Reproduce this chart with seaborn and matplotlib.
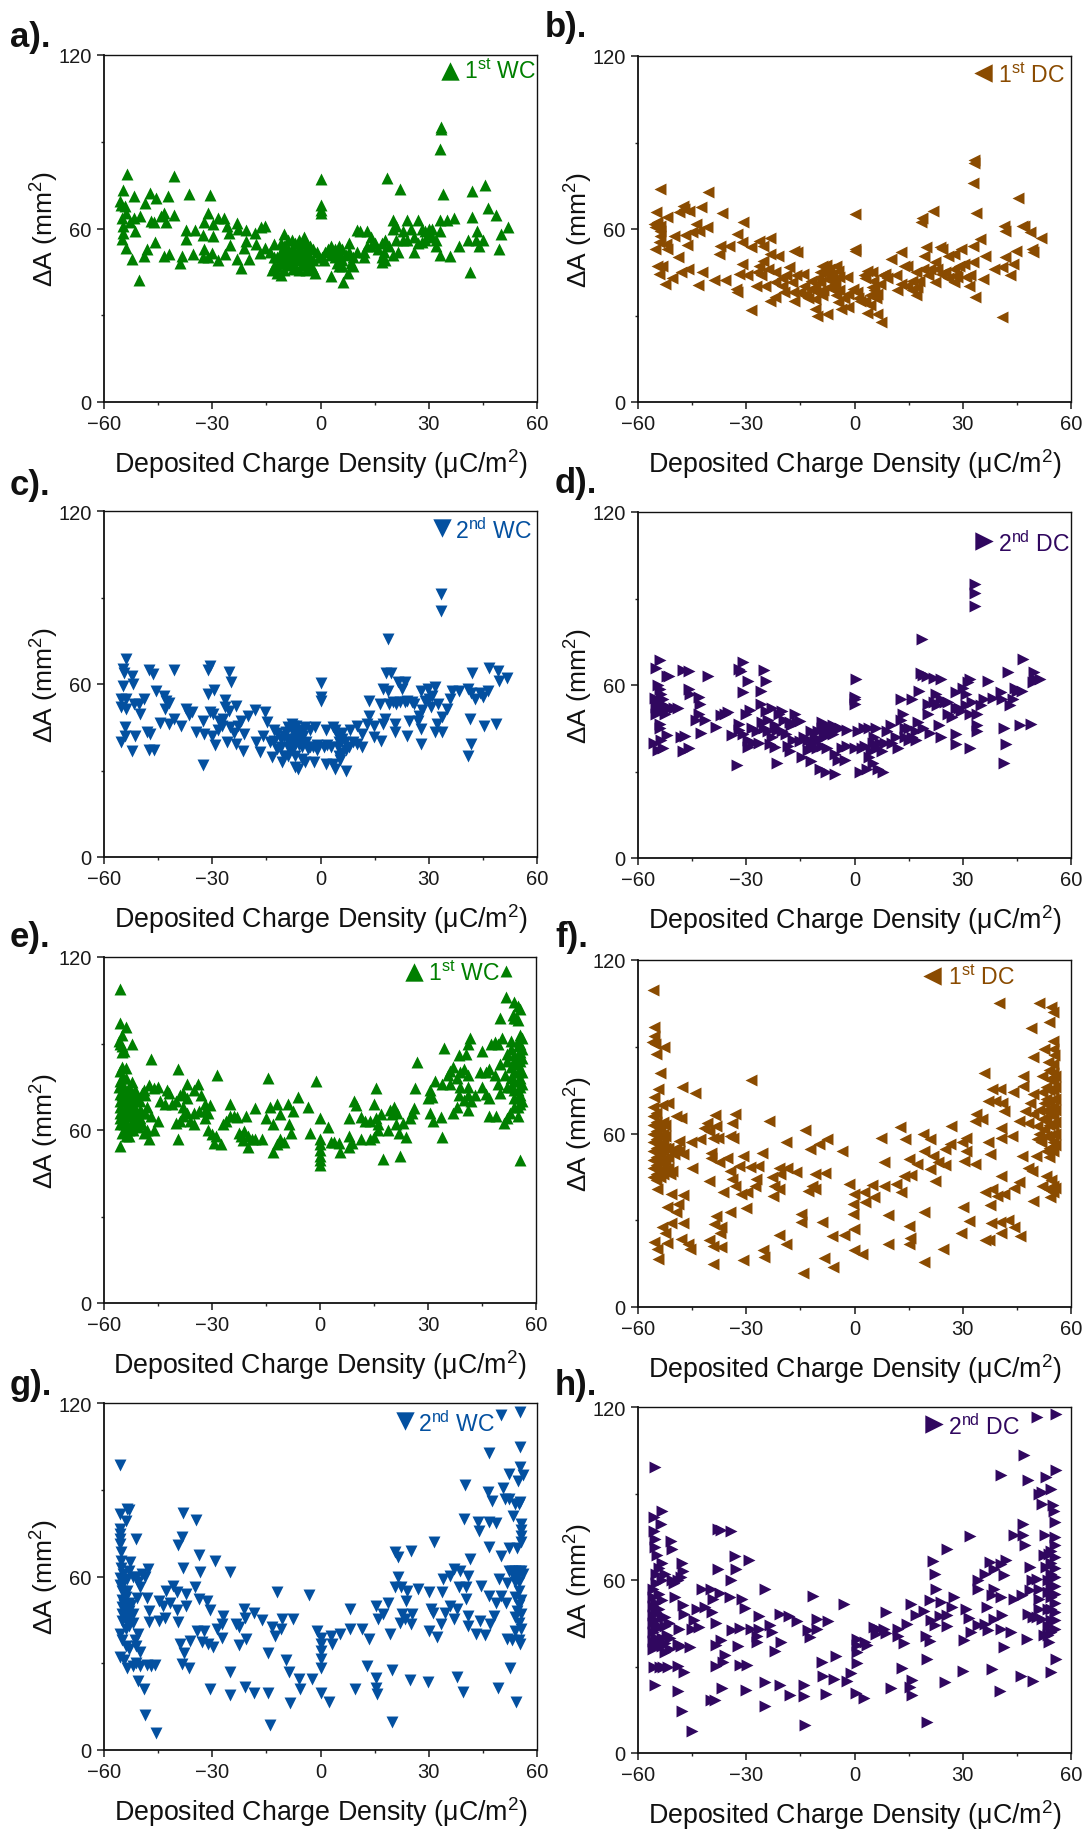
import matplotlib
matplotlib.use("Agg")
import matplotlib.pyplot as plt
import seaborn as sns
import pandas as pd
from matplotlib.ticker import MultipleLocator

sns.set_theme(style="white")
plt.rcParams['font.family'] = ['Liberation Sans', 'DejaVu Sans']
plt.rcParams['mathtext.fontset'] = 'custom'
plt.rcParams['mathtext.rm'] = 'Liberation Sans'
plt.rcParams['mathtext.default'] = 'regular'

# (charge density, delta A) pairs
pts_a = [(-53.5,78.8),(-54.7,73.4),(-55.5,69.6),(-55.2,68),(-54.2,67.9),(-51.8,71.3),(-47.3,72.2),(-45.6,70.4),(-48.5,68.8),(-42.2,71.3),(-40.6,78),(-36.5,71.9),(-30.6,71.5),(-53.8,65.5),(-55,63.8),(-51.6,63.8),(-50,64.2),(-47.1,62.7),(-46.1,62.3),(-44.2,64.4),(-43.5,65.2),(-42.7,62.3),(-40.6,64.7),(-54.7,60.9),(-52.8,62.1),(-51.4,59.2),(-54.7,58.6),(-55,56.3),(-53.8,53.4),(-45.8,55.4),(-48,53),(-49,50.5),(-52.3,49.6),(-50.4,42.1),(-43.4,50.5),(-42,51.3),(-38.4,50.5),(-39,48.2),(-35.3,51.3),(-37.4,56.5),(-37.2,59.4),(-34.8,59.5),(-32.6,57.7),(-32.4,62.3),(-31.2,65.2),(-29.8,61.5),(-28.5,63.8),(-26.7,63.5),(-25.9,60.9),(-25.4,58.6),(-23.2,61.9),(-23,59.8),(-20.6,59.5),(-18.2,58.6),(-16.6,60.4),(-15.4,60.9),(-29.8,57.5),(-30.2,51.7),(-32.2,52.9),(-32.6,50.3),(-31.2,50),(-28.5,49.2),(-26.4,51.1),(-25,54.2),(-23.2,49.4),(-21.9,46.2),(-19.9,49.6),(-21.1,53.4),(-20.6,55.7),(-17.8,54.6),(-16.8,51.7),(-15.4,53.4),(-13,54.6),
(-14,52),(-13,50),(-13,47),(-13.5,45.5),(-12,50),(-12,47),(-12,44.5),(-11,44),(-11,48),(-11,52),(-11,55),(-10,58),(-10,54),(-10,51),(-10,48),(-10,45.5),(-9,56),(-9,53),(-9,50),(-9,47.5),(-8,56),(-8,53),(-8,51),(-8,48),(-7.5,46),(-7,55),(-7,52),(-7,50),(-7,47),(-6,56),(-6,53),(-6,51),(-6,49),(-6,45.5),(-5,55),(-5,52),(-5,50),(-5,47.5),(-4.5,57),(-4,55),(-4,53),(-4,51),(-4,48),(-4,45.5),(-3,54),(-3,50),(-3,47),(-2,53),(-2,49),(-2,46),(-1.5,44.5),(-1,52),(-0.5,50),(0.5,50),
(0,77),(0,68),(0,66.5),(0,65.5),(1,49),(1.2,52),(2,53),(3,54),(3,51),(3,43.5),(4,53),(4,50),(4.5,48),(5,54),(5,52),(5,47),(5.5,50),(6,53),(6,49),(6,47),(6.3,41.5),(7,51),(7.5,44.5),(8,55),(8,52),(8.5,48),(9,47),(9,50),(10,52),(10,59.5),(11,59),(12,52),(12,50),(13,54),(13,59),(14,57),(14,54),(15,55),(16,53),(17,55),(17,50),(17,48.5),(17.5,52),(18,49),(18,56),(18.5,77.5),(19,54),(20,63),(20,60),(20,51),(21,61),(21,56),(21.5,52),(22,73.5),(23,59),(23,56),(24,63),(24,56),(25,60),(26,57),(26,52),(27,63),(27,55),(28,60),(28,55.5),(29,59),(29,56),(30,60),(30,58),(31,60),(31,57),(32,54),(32,56),(33,63),(33,51),(33,59),(33.5,95),(33.4,94.3),(33,87.5),(34,72),(35,63),(36,50.5),(37,63.5),(38.5,54),(41,56),(41.5,45),(42,73),(42,64),(43,56),(43.5,59),(44,54),(45,56),(45.5,75),(46.5,67),(48.5,64.5),(49.5,53),(50,58),(52,60.5)]

pts_b = [(-53.8,73.9),(-40.6,73),(-47.5,67.9),(-48.5,65.8),(-46,66.1),(-47.2,67),(-42.5,67.5),(-36.7,65.4),(-31,62.5),(-55,65.8),(-52,64),(-55.7,61.7),(-54.7,62.3),(-53.8,61.2),(-55.2,60.6),(-53.8,59.4),(-54,57.5),(-43.9,61.7),(-40.8,60.6),(-43.2,59.4),(-45.1,58.8),(-47,58),(-50.1,57.5),(-52.3,54.8),(-51.9,52.9),(-55.2,53),(-54.3,55.4),(-46.3,54.5),(-48.8,50.2),(-37.4,54.2),(-37.6,51.4),(-34.8,54.2),(-32.6,58.3),(-31.2,55.4),(-28.8,53.7),(-26.6,56),(-25.4,54.2),(-23.5,56.8),(-23.5,51.4),(-21.1,50.8),(-16.7,52.5),(-15.8,51.9),
(-54.7,47.3),(-53.3,47.3),(-54.3,44.4),(-52.6,41),(-50.7,42.9),(-48.2,45),(-46.1,46.2),(-42.4,45.2),(-43.5,40.6),(-38.9,42.4),(-35.8,42.4),(-32.8,39.2),(-32.6,38.1),(-32.1,44.4),(-31.2,47.9),(-29.7,43.9),(-28.8,32),(-27.3,40.2),(-26.4,47.3),(-25.9,43.9),(-24.9,40.4),(-25.4,49),(-23.5,35.2),(-22,36.3),(-22,45),(-22,41.5),(-20.1,40.4),(-19.6,38.3),(-18.2,46.7),(-17.4,41.5),(-16.7,35.2),(-16.3,43.9),(-14.3,44.4),(-13.9,40.4),(-13.4,36.9),(-12,39.2),(-11,32.3),(-10.5,30),(-11,35.8),(-9.5,45),(-9.5,41.5),(-8.6,38.7),(-7.6,30.6),(-8.1,45),(-7.6,42.7),(-7,46.2),(-6.2,43.9),(-6.2,39.2),(-4.7,45.6),(-4.2,43.3),(-4.2,38.7),(-4.7,34.6),(-3.8,32.3),(-1.8,32.9),(-1.8,37.5),(-2,43.3),(-0.4,39.2),(-9,47),(-8,47.5),(-7,44),(-6,42),(-5,47),(-5.5,41),(-10,38),(-11,40),(-12,42),(-13,36),
(0.6,38),(0.1,65.2),(0,53),(0.2,52.5),(1.5,35),(2.5,44),(3.5,45.6),(3.5,31),(4.4,37),(4.9,45),(4.9,40),(4.4,33.5),(6.3,30.6),(7.3,27.7),(6.3,37.5),(7.8,44),(8.5,44.5),(10,49.6),(13,52),(13.6,47),(11.6,44),(11.8,38.7),(14.5,47.3),(14.5,40.4),(16,38.7),(17,37),(17.4,40),(17,45),(18.4,62.3),(18.7,63.8),(21.7,66.4),(19.8,53.7),(19.3,50.8),(20.3,43.9),(22.2,48.5),(22.2,41.5),(23.7,53.7),(24.1,44.4),(24.3,53),(25.9,50.8),(27.5,46.2),(27.5,41.5),(27.5,51.4),(29.4,53),(28.5,43.5),(30.4,47.9),(30.9,43.3),(31.8,40.4),(32.8,48.5),(32.8,54.2),(33,84),(33,83),(32.8,76),(33.6,65.5),(33.3,36.3),(34.7,56.5),(36.2,50.8),(35.7,42.5),(38.6,46.2),(41,29.4),(41.3,61),(41.7,59.4),(41.7,50.2),(41,46.7),(43,43.9),(43.9,47.9),(44.8,52.5),(45.3,70.6),(46.3,61.2),(47,61),(48.7,59),(49.2,53),(49.4,52),(51.8,57),(5,42),(5.5,39),(6,36),(18,42),(19,46),(21,46),(23,46),(26,43),(28,44),(29,47),(32,44),
(-27,45),(-24,46),(-20,43),(-19,44),(-17,38),(-15,38),(-14,37),(-10,43),(-9,37),(-7,40),(-5,37),(-3,36),(1,36),(3,43),(3,35),(7,41),(9,43),(13,41),(16,42),(25,45)]

pts_c = [(-53.8,68.7),(-54.7,65.2),(-54.4,63.8),(-52.3,62.9),(-54.7,59.4),(-52.1,60),(-47.5,64.9),(-46.3,63.5),(-40.6,64.9),(-30.5,66.4),(-31.2,65),(-25.4,64),(-24.7,60.6),(-29.6,57.9),(-31.2,56.5),(-45.6,57.7),(-43.5,55.7),(-42,53.3),(-43.2,51.4),(-42.8,54),(-55.2,54.8),(-53.8,54.8),(-55.2,51.9),(-53.8,51.4),(-51.8,53),(-50.4,53),(-48.8,54.8),(-49.9,49.6),(-54.2,45),(-54.2,41.8),(-55.2,39.8),(-51.4,41.8),(-52.3,36.6),(-48,43.3),(-47.3,42.7),(-47.5,37.2),(-46.1,37.2),(-44.6,46.5),(-42,46),(-40.6,47.7),(-38.7,45.4),(-37.2,51.4),(-36.5,49.4),(-35.5,50.2),(-34.6,43.3),(-32.6,47.3),(-32.2,42.7),(-32.6,32),(-30.7,50.2),(-29.8,49.6),(-30,42),(-29.3,38.7),(-28.3,43.9),(-26.4,54.6),(-26.4,52),(-25.4,50.8),(-23.5,52.3),(-27.4,45.6),(-25.9,39.8),(-25,45),(-23,45.6),(-23.5,39.2),(-21.6,36.9),(-20.2,49),(-18.2,51),(-21.1,42.7),(-17.8,39.8),(-16.8,36.3),(-15.4,50.2),(-14.9,46.7),(-15.8,42),(-13.4,34.6),(-13,40.4),(-12,37.5),(-10.6,32.9),(-9.6,43.3),(-9.1,40.4),(-7.7,45.6),(-6.7,45.6),(-7.2,31.2),(-6.2,30.6),(-6.2,43.3),(-7.2,38.7),(-4.3,32.9),(-4.3,45),(-4.8,42),(-3.4,37.5),(-1.9,32.9),(-1.4,45),(-1,38.7),(0,60.4),(0,55.4),(0,54.2),(1.4,43.9),(1.9,38.7),(1.4,32.3),(3.4,32.3),(3.4,45),(4.1,30.6),(4.8,38),(4.8,42),(5.3,33.5),(7.2,30),(6.7,39.8),(8.2,43.9),(10.1,39.2),(11.5,38),(11.5,42.7),(10,45.6),(13.4,54.2),(13.4,49),(13,46.2),(14.9,45.6),(14.9,41.5),(16.8,40.4),(17.3,46.2),(16.5,53),(18.7,75.6),(18.2,63.8),(19.5,63.8),(17.3,58.3),(18.7,57.7),(20.2,53.7),(20.6,46.2),(20.6,43.3),(21.6,60.6),(23.5,60.6),(22.6,58.3),(22,53.7),(23.5,53.7),(24,42),(25.4,53.7),(24.5,47.3),(27.8,57.7),(27.8,39.2),(27.8,44.4),(27.4,49),(27,47),(29.8,58.3),(31.7,58.9),(30.2,54.8),(30.7,51.9),(32.6,53),(31.7,43.3),(32.2,46.2),(33.6,43.3),(33.3,91.2),(33.3,85.4),(33.6,48.5),(35,51.4),(36,54.8),(36.5,57.7),(38.4,57.7),(40.8,58.3),(41.8,57),(41.3,47.9),(42,63.8),(41.8,39.2),(41,35.2),(42.9,54.8),(44.2,57),(45,55.4),(46.4,57.7),(45.3,45.6),(46.6,65.5),(48.5,46.2),(49.2,64.6),(49.4,61.2),(51.8,62),
(-12,43),(-11,41),(-11,38),(-10,35),(-9,38),(-9,35),(-8,44),(-8,41),(-8,37),(-7,43),(-7,35),(-6,41),(-5,44),(-5,38),(-5,34),(-3,38),(-2,38),(-13,44),(-14,40),(3,38),(5,35),(6,36),(6,41),(7,37),(8,38),(9,40),
(-10,42),(-9,45),(-8,46),(-7,41),(-6,39),(-4,40),(-3,44),(-1,37),(1,38),(4,44),(5,40),(6,43),(-22,47),(-24,43),(-27,48),(-28,47),(18,48),(19,53),(21,53),(24,54),(26,53),(28,51),(29,54),(31,56)]

pts_d = [(-53.8,68.8),(-55,65.8),(-52,63),(-51.5,63.2),(-47.5,65.3),(-46,65),(-40.5,63),(-31,68),(-32,65.6),(-31.5,65),(-25.2,65.3),(-29.5,61.5),(-24.6,61.3),(-31,57.5),(-26,57.8),(-46,58.7),(-45.5,57),(-43,55.8),(-42.7,53.5),(-54.5,60),(-54,58.5),(-53.5,57),(-55.3,55.5),(-54.8,54),(-55,52.5),(-54,53.8),(-53,53),(-52,52.5),(-51,52),(-50,52),(-49,52),(-52.5,50),(-54,46.5),(-54,45),(-52,42.5),(-53.5,41),(-55.5,40),(-54.5,37.5),(-53,38),(-48,42),(-47,42.3),(-47.5,37),(-46,38),(-42.5,43.5),(-44,48),(-43,50),(-41.5,48),(-38.5,45.5),(-37,49.5),(-36,50),(-35,50.5),(-34,42.5),(-32,46.5),(-32,44.5),(-31,43),(-32.5,32.3),(-30,50),(-29.5,41),(-29,51.5),(-29.5,38.5),(-28,40),(-28.5,45),(-26.5,40),(-26,53.5),(-25.5,47),(-25,45),(-24.5,51),(-24,44),(-23,52),(-23.5,39.5),(-23,42),(-22,38.5),(-21.5,44.5),(-21,50),(-21.5,33),(-20,51),(-19.5,48),(-19,43),(-18.5,39),(-18,37),(-17.5,46),(-17,41),(-16.5,50),(-16,47),(-15,47.5),(-15,40.5),(-14.5,35),(-14,42),(-13,41),(-13,37.5),(-12,33.5),(-11.5,40),(-11,42),(-10.5,38),(-10,44),(-9.5,30.8),(-9,45),(-8.5,42),(-8,43.5),(-8,30),(-7.5,38),(-7,45.5),(-6.5,44),(-6,43),(-5.5,29),(-5.5,36),(-5,45.5),(-4.5,34),(-4,45),(-3.5,38),(-2.5,34),(-2,44.5),(-2,39),(0.3,62),(0.2,56),(0.2,55),(0.2,53.5),(0,38),(1,44),(1.5,30),(2,38),(2.5,45),(3,39),(3.5,31),(4,45),(4,35),(4.5,37),(5,40),(5,33),(5.5,42),(6,45),(6,38),(6.5,31),(7,40),(7.5,37),(8,30),(8.5,40),(9,44),(10,46),(10.5,40),(12,38),(11.5,42),(13,55),(13.5,50),(13,48),(14,45),(15,41),(16,55),(17,41),(17,44),(17.5,47),(18,58),(18.5,64),(18.7,76),(19,63.5),(20,63),(20.5,53.5),(20.5,50),(21,43.5),(22,62.5),(22.5,57),(23,53),(23.5,46),(24,62),(24,42),(25,54),(26,50),(27,49),(28,57.5),(28,52),(28,43),(28,39.5),(29.5,51),(30,59),(31,57),(31.5,61),(32,62),(32,38),(32,50),(32.5,54),(33.5,95),(33.5,92),(33.5,87.5),(34,46),(34,44),(34,50),(35,53),(36,55),(37,61.5),(38.5,55.5),(40.5,57.5),(41,55),(41.5,45),(41.5,33),(42,39.5),(42.5,64.5),(43,53),(44,55),(44.5,59),(45,58),(46,46),(46.5,58),(46.8,69),(49,46.5),(49.5,61),(49.7,64.5),(50,62),(51.5,62),
(-12,44),(-10,41),(-9,47),(-8,46),(-7,43),(-6,46),(-12,38),(-9,39),(-20,44),(-27,44),(-24,48),(-22,46),(-18,47),(14,42),(15,45),(16,42),(19,45),(22,54),(24,55),(26,54),(29,52),(31,53),(-53,52),(-55,50),(-54,51),(-53,55)]

pts_e = [(-55.5,109),(-55.5,97),(-54,95.7),(-55.7,91),(-55,93),(-55,89),(-55.5,90),(-52.3,90),(-55,87),(-54.5,87.5),(-55,82),(-54,81.5),(-55.5,80.5),(-55,78),(-55.5,77),(-54,78),(-52.3,76.5),(-55.7,75),(-54.5,75),(-53,75),(-51.5,74),(-55.5,72.5),(-54,72.5),(-52.5,72),(-51,72.5),(-49.5,73),
(-55.5,70),(-55.5,68),(-55.5,66),(-55.5,64),(-55.5,62),(-55,59),(-55.5,54.6),(-55,72),(-54.5,70),(-54.5,67),(-54.5,65),(-54.5,62),(-54,60),(-54,58),(-53.5,70),(-53.5,68),(-53.5,65),(-53.5,62),(-53,60),(-53,58),(-53,73),(-52.5,70),(-52.5,67),(-52.5,65),(-52.5,62),(-52,60),(-52,68),(-52,71),(-51.5,66),(-51.5,63),(-51,70),(-51,67),(-51,65),(-51,62),(-50.5,61),(-50,64),(-50,67),(-50,70),(-49.5,66),(-49.5,62),(-49,59),(-48.5,66),(-48,60),(-48,68),(-47.5,57),(-47,65),(-46,60),(-45,63),(-44.5,70),(-43,69),(-42,73),
(-47,84.5),(-47.5,75.5),(-49,74),(-48.5,72),(-46,74.5),(-45,75),(-42.5,74),(-39.5,81),(-37,76),(-34,76),(-35,74),(-33,72),(-32,69),(-28.5,79),(-30.5,68.5),(-41,69),(-40,70),(-39,72),(-38,73),(-37,71),(-38,68),(-37,66),(-39,63),(-40,62.5),(-39.5,57),(-38,65),(-36,63),(-35,62),(-35,66),(-33.5,66.5),(-32,66.5),(-31,66),(-32,64),(-31,60),(-30,58.5),(-29,58),(-29.5,55.5),(-27.5,55),(-27,62),(-26,63),(-25,69),(-25,65),(-24,65),(-23,64.5),(-22.5,59),(-22,58),(-21.5,56.5),(-21,59.5),(-20,54),(-20,58),(-20.5,65),(-19,57),(-18,57),(-18,67.5),(-16,57),(-15,64),(-14.5,78),(-14,68),(-13,62),(-13,52.5),(-12,69),(-12,55),(-11,57),(-11,65.5),(-10,56),(-9,69),(-8.5,62),(-8,59),(-7.5,66.5),(-6,71.5),(-3.3,68),(-2.7,59),(-1.2,77),(0,64),(0,57),(0,55),(0,53),(0,51),(0,49.5),(0,48),(2.3,61),(3,56),(4,56),(5.3,55.5),(5.5,52.5),(8,64),(8,58),(8,54),(9,55.5),(9.5,70),(10,68.5),(11.5,57),(11.5,64.5),(12.5,63),(14,63),(14,57),(15,57.5),(15,69),(15.5,64),(15.5,74.5),(16,62),(16,60),(17,65.5),(17.5,50),(19,60),(19.5,67),(20,65.5),(20.5,68),(21,62),(21.5,66),(22,59),(22.3,51),(23,62.5),(24,57.5),(25,64),(25.5,66),(26,67.5),(26.5,74.5),(27,83.5),(30,71),(30.5,74),(30.5,66),(31,71.5),(31.5,63),(32,77),(33.5,64.5),(34,57.5),(34,76),(34.5,88.5),(35.5,79),(36,76),(36,80.5),(37,82),(37,66),(38,78),(38,68),(38.5,72),(39,75),(39,80),(38.5,86),(40,70.5),(40,81),(40.5,86.5),(41,67),(41,72),(41,79),(41,75),(41,90),(41.8,92),(42,70),(43,72),(44.5,80),(45,87.5),(45,75),(46,72.5),(46,80),(47,81),(47,65),(47,71),(48.5,79),(47.5,90),(48.5,90.5),(49,65),(49.5,76),(50,99),(50,73),(50,83),(50.5,92),(49.5,90),(51,62.5),(52,75),(51.5,79),(52,84),(52,86.5),(52,64),(52.7,66),(51.7,115),(51.8,106),(53,91),(53,88),(53.5,100),(54,104.5),(54,99),(54.5,99),(55,103),(55.5,102),(55,98),(55.5,49.5),
(53,82),(53,78),(53,75),(54,86),(54,84),(54,80),(54,77),(54,74),(54,71),(54,68),(55,91),(55,89),(55,86),(55,83),(55,80),(55,77),(55,74),(55,71),(55,68),(55,65),(55.5,93),(55.5,90),(55.5,87),(55.5,84),(55.5,81),(55.5,78),(55.5,75),(55.5,72),(55.5,69),(56,92),(56,88),(56,85),(56,80),(56,76),(56,70)]

pts_f = [(-55.9,109.6),(-55.7,97),(-55.7,93.8),(-56,91.5),(-55.2,91),(-52.8,90),(-55,87.5),(-54,81),(-54.5,75.4),(-55.7,72.5),(-53.3,70),(-51.6,70.7),(-47.7,76.2),(-44.2,74),(-28.6,78.6),(-49.5,66),(-48,65.5),(-38.6,66.3),(-33.1,66.7),(-34,63.8),(-23.8,64.2),(-13.7,61.3),(-40.8,63.8),(-41.8,62),(-38.4,62.7),(-40.3,61),(-39.3,58.6),(-37.9,58.6),(-34.5,59.2),(-33.6,58.3),(-42.7,58),(-45.4,56.9),(-48.5,57.5),(-48.5,54),(-47.5,52.9),(-39.8,53.4),(-39.8,51.7),(-37.6,50),(-35.3,51.7),(-31,52.3),(-25.7,53.4),(-18.9,56.9),(-12.4,54.6),(-9.8,56.3),(-7.6,58),(-3.5,54),(-45.1,47.9),(-34.5,47),(-32.1,48.8),(-29,48.5),(-26.8,48.6),(-34,44.2),(-33.1,42),(-27.3,44.2),(-27.6,41.7),(-29.7,39.6),(-31.4,39),(-40.3,43.6),(-36.5,39.6),(-23,44.8),(-22.2,41.9),(-22.7,38.4),(-21,48.2),(-20.6,45.9),(-18.7,48.2),(-16.3,46.7),(-21,40.7),(-11,45.9),(-8.1,46.2),(-11.9,41.9),(-12.9,40.2),(-11,40.7),
(-54.7,40.7),(-50.9,39.2),(-47.5,38.8),(-51.9,34.7),(-49,35.5),(-49.5,32.7),(-50.9,29.2),(-47.5,29.2),(-53.3,27.7),(-52.4,25.7),(-55.7,22.5),(-54.7,20.2),(-51.9,22),(-48.2,23.4),(-46.1,21.7),(-45.6,20),(-54.5,16.5),(-40.3,23.2),(-39.3,21.1),(-36.9,20.9),(-39.3,14.8),(-38.4,31.5),(-38.9,28.6),(-36.9,27.5),(-37.4,25.5),(-34.5,32.7),(-30,34.4),(-31,16.3),(-25.4,19.7),(-25.2,17.4),(-20.9,24.8),(-18.9,21.9),(-14.8,32.1),(-14.8,29.4),(-14.3,11.7),(-9,29.5),(-8.4,16.8),(-5.9,14),(-6.2,24.6),(-2.8,24.8),(-0.2,26.9),(-0.2,19.7),(2,18.2),(-1.5,42.5),(-0.1,39),(-0.4,35.5),(-0.4,32),(2.5,39.6),(2.8,36.4),(5.4,38.2),(4.9,42.2),(7.3,58.6),(8.3,50),(8.3,41.9),(9.4,31.7),(9.2,21.9),(11.6,42.5),(13.6,45.4),(13,39.8),(12.6,62.3),(13.9,58),(15.7,45.6),(15.2,51.1),(17.2,49.6),(15,28),(15.5,24),(15,21.7),(19.3,32.9),(19.3,15.6),(19,60),(19.3,54),(20.8,58),(20.8,47.7),(21.7,52.3),(22.2,43.6),(23.2,50),(24.6,20.2),(25.1,54.6),(25.1,49),(26.6,56.3),(26.8,62.7),(29.9,56.9),(30.9,58.6),(31,54),(30.4,50.5),(30.2,34.7),(29.4,25.7),(31.8,29.8),(33.3,49.6),(33.8,66.7),(33.3,64.4),(35.2,65),(35.9,80.9),(36.2,39.6),(36.2,23.2),(37.3,23.2),(37.1,56.9),(37.6,52.9),(37.1,71.3),(38.1,75.4),(39,71.3),(40,105),(40.3,75.4),(41,70.7),(41.3,67.9),(40.5,62),(40.7,58.6),(40.5,45.4),(38,40.7),(39.5,38.4),(41.3,39),(37.6,35.2),(37.8,29.2),(40.3,29.4),(40.5,25.7),(42.6,30),(44.3,27.5),(45.8,24.6),(43.9,74.2),(43.6,59),(45.5,64.2),(46.3,52.3),(44.2,41.3),(45.5,43.4),(46.8,76.5),(46.8,80),(48,48.2),(49,96.5),(49.6,86.3),(49.2,47),(49.4,36.5),(48.2,63.8),(47.2,67.9),(48.7,70.7),(49.6,73.6),(49.6,66.7),(50.6,62.7),(51.1,105),(50.6,58),(50.4,52.3),(51.8,56.9),(52,80),(52,74.2),(52.5,70.7),(52.5,89.2),(53.5,84.6),(54.5,103.6),(55.1,102),(54,98.4),(54.9,92),(54.9,89.2),(55.4,87),(52,42),(53,45.4),(53.5,40.7),(54.9,39.6),(55,42),(52.5,61.5),(53,54),
(53,76),(53,72),(53,68),(53,65),(53,59),(54,82),(54,79),(54,75),(54,71),(54,67),(54,63),(54,59),(54,55),(54,52),(55,84),(55,81),(55,78),(55,75),(55,72),(55,69),(55,66),(55,63),(55,60),(55,57),(55,54),(55.5,80),(55.5,76),(55.5,72),(55.5,68),(55.5,64),(55.5,60),(55.5,56),(52,65),(51,68),(51,60),(54.5,44),(55.5,41),(54.2,38),
(-55.8,69),(-55.8,66),(-55.8,63),(-55.8,60),(-55.8,57),(-55.8,54),(-55.8,51),(-55.8,48),(-55.8,45),(-55,67),(-55,64),(-55,61),(-55,58),(-55,55),(-55,52),(-55,49),(-55,46),(-55,44),(-54,62),(-54,59),(-54,56),(-54,53),(-54,50),(-54,47),(-54,45),(-53.2,64),(-53.2,60),(-53.2,57),(-53.2,54),(-53.2,51),(-53.2,48),(-53.2,46),(-52.4,63),(-52.4,59),(-52.4,55),(-52.4,51),(-52.4,47),(-51.6,55),(-51.6,52),(-51.6,48),(-51,46),(-50.5,54),(-50.5,47),(-50,53),(-49.5,55)]

pts_g = [(-55.5,98.5),(-53.5,83.3),(-53.2,83),(-55.5,81.6),(-53.8,79.3),(-55.5,76.4),(-55.5,74.7),(-55.5,73),(-55.7,71.2),(-55.2,68.3),(-51.2,72.9),(-55.2,65.4),(-52.8,64.9),(-55.2,63),(-54.7,61),(-55.7,59.5),(-38.2,81.9),(-34.6,79.6),(-38.4,73.7),(-39.6,71),(-33.6,67.4),(-29.3,65.4),(-38.2,63.1),(-33.4,61.7),(-25.2,61.7),(-47.8,62.5),(-48.6,59.7),(-49.9,56.2),(-50.9,52.7),(-48,52.7),(-47.5,48.1),(-47.5,44.4),(-44.8,51.6),(-43.7,49.9),(-43.2,45.8),(-44.8,44.7),(-42.7,55),(-41.8,51),(-40.8,56.8),(-39.8,54.5),(-39.8,48.5),(-39.4,44.4),(-37.4,53.9),(-37.4,49.9),(-34.8,56.2),(-33.6,52.2),(-31.5,51.6),(-30.7,48.5),(-34.3,41.2),(-32.2,41.2),(-36.2,37.7),(-38.9,36.6),(-37.9,33.5),(-38.4,29.7),(-36.5,28.5),(-32.9,37.2),(-31.2,36.6),(-29.8,35.7),(-28.8,41.8),(-27.4,43.5),(-26.9,46.4),(-27.4,38.9),(-23.5,43.5),(-22.6,42.4),(-21.1,48.7),(-20.8,45.5),(-22.6,36.4),(-20.6,38.3),(-18.4,47.5),(-16.1,45),(-13.4,42.4),(-12.5,39.5),(-11,41.8),(-10.6,45.2),(-12,54.5),(-7.7,45.2),(-3.1,53.5),(-25.2,27.1),(-30.7,21.2),(-25,18.9),(-20.9,21.9),(-18.4,19.6),(-14.6,19.8),(-14.6,33.7),(-9.6,31.2),(-8.8,27),(-6,24.5),(-5.8,21),(-2.4,24.5),(-8.4,16.4),(-14.1,8.7),(0,19.6),(2.4,16.7),(-1,41),(0,38.9),(0,36.6),(0,34.3),(0,31.4),(0,28.5),(2.9,39.5),(3.1,36.6),(5.3,40),(8.2,48.7),(8.2,41.8),(11.5,41.8),(13.4,38.3),(13,29),(9.6,21.2),(15.4,25),(15.4,21.6),(15.6,19.3),(15.8,45.2),(15.4,49.9),(17.3,47),(19.2,40),(19.7,27.6),(19.7,9.7),(18.7,51),(20.6,68.3),(21.4,66.6),(25,68.9),(21.6,59.7),(20.6,56.2),(22.4,56.2),(23.7,51.6),(24,55),(26.9,55.6),(22.6,47),(22,44),(25.4,47),(25.2,43.5),(23.5,45.2),(24.7,24.1),(29.8,23.5),(31.4,71.8),(30.2,54.5),(30.7,48.7),(31.2,47.5),(30,41.2),(32.2,39.2),(33.6,54.5),(33.9,59),(33.3,43.5),(34.6,47.5),(36,60.2),(37,62.5),(38.7,62),(37.7,25.3),(39.6,20.2),(40,91.6),(39.8,79.9),(36,49.9),(37,45.2),(37.9,48.7),(38.4,56.2),(40.3,56.2),(40.3,52.2),(40.8,60.2),(41.3,66),(40.8,42.9),(40.8,46.4),(43.2,40),(44.2,44.7),(44.6,56.8),(43.7,78.7),(43.9,75.8),(46.6,102.7),(46.4,89.3),(47.5,86.2),(46.8,78.7),(48.7,78.5),(46.8,70.3),(45.6,39.7),(46.6,53.3),(47,43.5),(48,46.4),(48.5,51),(49.2,21.6),(50,115.9),(49.4,59),(50,53.3),(50,67.2),(50.6,90.6),(51.2,86.8),(51.8,38.3),(51.4,51),(52.3,86.8),(52.3,95.4),(52.5,28.2),(52.3,70),(52.3,62),(51.8,57.9),(53.3,81),(54.2,16.6),(54.7,93.1),(55.4,116.8),(55.4,104.7),(55.2,97.7),(55.2,85.6),
(55.5,78),(55.5,76),(55.5,74),(55.5,72),(54.5,70),(55,85),(54,85),(53,62),(53.5,60),(54,62),(54.5,60),(55,62),(55.5,62),(54,58),(55,58),(55,55),(55.5,52),(54,53),(55,50),(54.5,48),(55.5,47),(54,46),(55,44),(55.5,42),(54,41),(55,38),(53,38),(55.3,36.5),(56,61),(56,95),
(-55.5,57),(-55,55),(-55,52),(-55,49.5),(-55,47),(-55,44.5),(-54.5,50),(-54.5,46),(-54,53),(-54,50),(-54,48),(-54,45),(-54,42),(-53.5,55),(-53,51),(-53,48),(-53,46),(-53,43),(-52.5,50),(-52,47),(-52,44),(-54.5,58),(-53.5,59),(-53,62),(-52,60),(-51,60),(-50.5,58),(-49.5,61),(-55.5,40),(-55,38),(-54,36),(-53,35),(-55.5,32),(-54.5,31),(-53.5,28.5),(-52,29),(-51,30),(-50,29),(-48,29.5),(-47,29),(-46,29.5),(-50.5,24),(-51.3,38),(-50.5,40),(-50,34),(-51,36),(-49,21),(-48.5,12),(-45.5,6)]

pts_h = [(-55.2,99.2),(-53.3,83.9),(-55.5,81.8),(-53.6,79.5),(-55.5,77),(-55.2,74.3),(-55.2,71.4),(-50.9,73.4),(-50.7,70.6),(-54.7,68.5),(-47.7,65.9),(-47.5,63),(-37.9,77.6),(-37,77.2),(-34.2,77),(-33.1,68.2),(-29.1,66.8),(-37.7,63.7),(-32.9,63.9),(-34.1,59.9),(-24.9,57),(-11.6,54.4),(-2.8,51.6),(-42.2,56.8),(-39.8,57),(-39.3,53.5),(-37.4,55.6),(-34.5,54.1),(-31.2,53.5),(-30.4,50.3),(-43.7,50),(-41.3,50.6),(-39.5,48.9),(-47.5,51.2),(-47.3,48.3),(-44.4,46),(-45.1,43.1),(-43.2,43.7),(-38.4,45),(-34,42.8),(-31.6,43.4),(-26.6,47.4),(-28.8,43.1),(-26.4,42.9),(-26.9,38.5),(-27,40.5),(-23.5,44.3),(-23,42),(-20.6,48.3),(-18.2,47.5),(-15.8,45.8),(-12.9,42.5),(-12.4,40.2),(-10.5,43.1),(-10.5,46.4),(-7.4,45.8),(-48.7,43.1),(-49,37.9),(-45.6,36.8),(-38.4,37.3),(-36.9,39.1),(-32.4,37),(-36,33.9),(-36.5,31.6),(-38.4,30.2),(-31.6,30.4),(-29.7,30.6),(-20.3,38.5),(-22,35.4),(-49,30.2),(-47.2,28.1),(-55.2,23.7),(-49,21.5),(-47.8,14.5),(-45.1,7.6),(-39.8,18.3),(-38.7,18.5),(-36.7,22.5),(-30.2,21.7),(-24.9,24.6),(-24.7,16.2),(-20.6,23.5),(-18,20),(-14.1,23.7),(-14.1,19.8),(-13.7,9.6),(-9,31.6),(-5.2,33.6),(-8.6,26.6),(-5.7,25.5),(-2.1,24.9),(-7.8,20.3),(0.4,20.9),(2.5,19.1),(-0.9,27.9),(0.6,31.3),(0.6,39.7),(0.6,37.3),(0.6,35),(3,38.5),(3.5,37.5),(5.4,43.7),(5.9,41.4),(8.8,48.9),(8.3,43),(6.5,43),(8.8,41.5),(10,22.7),(12.1,43.1),(12.1,40.6),(13.6,38.3),(13.3,29.5),(16,25.4),(15.5,22.9),(16,20),(14.5,44.9),(15.7,51.8),(17,47.7),(19.3,49.2),(19.8,40.5),(20.8,38.8),(20,32.7),(20,10.8),(21.7,66.5),(22.2,62),(22.7,57),(20.8,52.9),(21.3,46),(22.2,44.3),(23.7,47.5),(24.1,52.4),(25.6,47.7),(25.6,44),(27,50.6),(27.5,54.1),(25.6,70.6),(25.1,24.6),(30.2,28.4),(32,75.1),(30.9,50),(31.6,46.9),(30.4,39.1),(32.3,42),(34.2,44.3),(34.2,57),(34.2,59.9),(36.2,44.9),(37.1,42.5),(37.6,66.2),(36.2,62.2),(38.6,63.9),(38.1,29),(40.2,21.5),(40.7,96.3),(36.7,50.6),(38.1,54.7),(38.6,57),(38.6,46.6),(40.5,54.1),(41,47.7),(40.7,42.9),(41.5,36.8),(40.5,65.7),(41.9,66.8),(41.5,61.6),(43.4,42),(44.3,53.5),(46.3,54.7),(44.3,75.5),(46.8,79.3),(46.8,75.5),(47.2,72),(47,103.2),(47.7,39.7),(46.1,26.6),(48.2,94.6),(49.4,24.9),(48.2,48.3),(48.7,56.4),(48.7,64.5),(49.2,59.9),(50.6,60.5),(51,53.5),(51,90),(50.6,116.5),(52,86.5),(52,90.5),(53,95.7),(52.8,75.5),(52.5,68.8),(53,64.5),(52,46.6),(52.5,40.8),(54,38.5),(54.5,28),(54.5,91.7),(55,86),(55.4,84),(55.9,117.7),(55.9,98),(55.9,32.7),
(55.5,80),(55.5,75),(55.5,72),(55.5,68),(55.5,64),(55.5,61),(55.5,58),(55.5,55),(55.5,52),(55.5,49),(55.5,46),(55.5,43),(54.5,70),(54.5,66),(54.5,62),(54.5,58),(54.5,54),(54.5,50),(54.5,46),(54.5,42),(54,69),(53.5,60),(53.5,56),(53.5,50),(53.5,44),(53.5,41),(51,50),(50.5,47),(51,57),(49.5,47),
(-55.8,57),(-55.8,54),(-55.8,51),(-55.8,48),(-55.8,45),(-55.8,42),(-55.8,39),(-55.8,36),(-55,62),(-55,59),(-55,52),(-55,49),(-55,46),(-55,43),(-55,40),(-55,37),(-54.2,64),(-54.2,55),(-54.2,50),(-54.2,44),(-54.2,38),(-53.4,66),(-53.4,60),(-53.4,53),(-53.4,47),(-53.4,40),(-53.4,37),(-52.5,62),(-52.5,47),(-52.5,44),(-52.5,38),(-52.5,35),(-52,41),(-51.5,45),(-51,40),(-51,36),(-50.5,60),(-50,59),(-49,60),(-48,61),(-48,37),(-49.8,54),(-55.5,30),(-54,30),(-53,30),(-51.8,30)]

panels = [
    ("a).", pts_a, (104, 56, 537, 403), "^", "#007F00", r"1$^{st}$ WC", (450, 72), (464, 72), (10, 37)),
    ("b).", pts_b, (638, 57, 1071, 403), "<", "#8A4B00", r"1$^{st}$ DC", (983, 74), (998, 76), (545, 27)),
    ("c).", pts_c, (104, 512, 537, 858), "v", "#0350A0", r"2$^{nd}$ WC", (442, 529), (455, 531), (10, 485)),
    ("d).", pts_d, (638, 513, 1071, 859), ">", "#30075F", r"2$^{nd}$ DC", (984, 542), (998, 544), (555, 484)),
    ("e).", pts_e, (104, 958, 536, 1304), "^", "#007F00", r"1$^{st}$ WC", (414, 973), (428, 974), (10, 938)),
    ("f).", pts_f, (638, 961, 1071, 1308), "<", "#8A4B00", r"1$^{st}$ DC", (932, 977), (948, 978), (555, 938)),
    ("g).", pts_g, (104, 1404, 537, 1751), "v", "#0350A0", r"2$^{nd}$ WC", (405, 1422), (418, 1424), (10, 1386)),
    ("h).", pts_h, (638, 1408, 1071, 1754), ">", "#30075F", r"2$^{nd}$ DC", (934, 1425), (948, 1427), (555, 1386)),
]

W, H = 1086, 1831
fig = plt.figure(figsize=(W / 100, H / 100), dpi=100, facecolor="white")

def fx(x):
    return x / W

def fy(y):
    return 1 - y / H

for label, pts, (l, t, r, b), marker, color, legend, mpos, tpos, lpos in panels:
    ax = fig.add_axes([fx(l), fy(b), (r - l) / W, (b - t) / H])
    df = pd.DataFrame(pts, columns=["charge", "area"])
    sns.scatterplot(data=df, x="charge", y="area", marker=marker, color=color,
                    s=74, linewidth=0, ax=ax, clip_on=True, legend=False)
    ax.set_xlim(-60, 60)
    ax.set_ylim(0, 120)
    ax.xaxis.set_major_locator(MultipleLocator(30))
    ax.xaxis.set_minor_locator(MultipleLocator(15))
    ax.yaxis.set_major_locator(MultipleLocator(60))
    ax.yaxis.set_minor_locator(MultipleLocator(30))
    ax.tick_params(which="major", direction="out", length=5, width=1.1, labelsize=14.5,
                   left=True, bottom=True, pad=4, colors="#1a1a1a")
    ax.tick_params(which="minor", direction="out", length=2.2, width=1, left=True, bottom=True)
    for s in ax.spines.values():
        s.set_visible(True)
        s.set_color("#111111")
        s.set_linewidth(1.0)
    ax.spines["left"].set_linewidth(1.3)
    ax.spines["bottom"].set_linewidth(1.3)
    ax.set_xlabel(r"Deposited Charge Density ($\mu$C/m$^{2}$)", fontsize=19.3, color="#111111", labelpad=9)
    ax.set_ylabel(r"$\Delta$A (mm$^{2}$)", fontsize=19, color="#111111", labelpad=-2)
    fig.text(fx(lpos[0]), fy(lpos[1]), label, fontsize=25, fontweight="bold", color="#111111",
             ha="left", va="center")
    ax.scatter([fx(mpos[0])], [fy(mpos[1])], marker=marker, s=175, color=color, linewidth=0,
               transform=fig.transFigure, clip_on=False)
    fig.text(fx(tpos[0]), fy(tpos[1]), legend, fontsize=16.6, color=color, ha="left", va="center")

fig.savefig("out.png", dpi=100, facecolor="white")
